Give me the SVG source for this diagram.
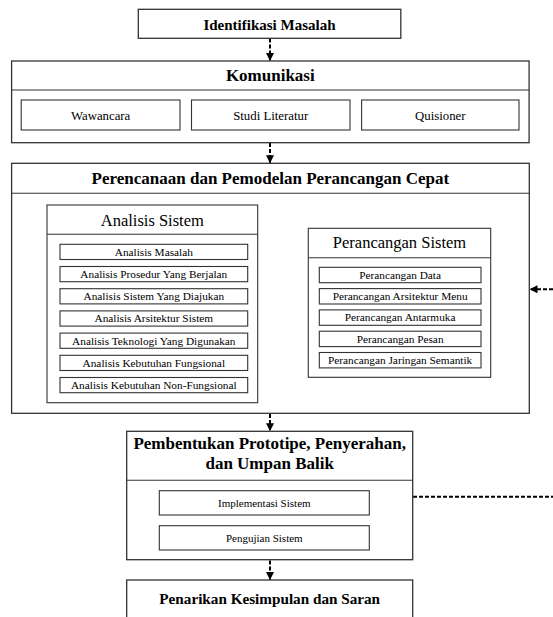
<svg xmlns="http://www.w3.org/2000/svg" width="553" height="617" viewBox="0 0 553 617">
<defs>
<style>
.box{fill:#fff;stroke:#333;stroke-width:1.3}
.sub{fill:#fff;stroke:#333;stroke-width:1.1}
.div{stroke:#333;stroke-width:1.1}
.t{font-family:"Liberation Serif","Times New Roman",serif;fill:#000;text-anchor:middle}
.b{font-weight:bold}
.c{fill:none;stroke:#000;stroke-width:2;stroke-dasharray:4 2}
</style>
<marker id="ah" viewBox="0 0 10 10" refX="10" refY="5" markerWidth="4" markerHeight="4" markerUnits="strokeWidth" orient="auto">
<path d="M0,0 L10,5 L0,10 z" fill="#000"/>
</marker>
</defs>
<rect width="553" height="617" fill="#fff"/>

<g id="connectors">
<line class="c" x1="270" y1="38.5" x2="270" y2="61" marker-end="url(#ah)"/>
<line class="c" x1="270" y1="143" x2="270" y2="163.3" marker-end="url(#ah)"/>
<line class="c" x1="258.5" y1="303.3" x2="308" y2="303.3" marker-end="url(#ah)"/>
<line class="c" x1="553" y1="289.3" x2="529.5" y2="289.3" marker-end="url(#ah)"/>
<line class="c" x1="270" y1="414" x2="270" y2="431.3" marker-end="url(#ah)"/>
<line class="c" x1="413" y1="496.7" x2="553" y2="496.7"/>
<line class="c" x1="270" y1="560.5" x2="270" y2="580" marker-end="url(#ah)"/>
</g>

<g id="identifikasi">
<rect class="box" x="138.3" y="9.3" width="262.5" height="29"/>
<text class="t b" x="269.5" y="29.5" font-size="15">Identifikasi Masalah</text>
</g>

<g id="komunikasi">
<rect class="box" x="11.6" y="61" width="517.5" height="81.7"/>
<line class="div" x1="11.6" y1="90" x2="529.1" y2="90"/>
<text class="t b" x="270.3" y="81.3" font-size="17">Komunikasi</text>
</g>
<g id="wawancara">
<rect class="sub" x="21.2" y="100" width="158.8" height="30"/>
<text class="t" x="100.6" y="119.8" font-size="12.8">Wawancara</text>
</g>
<g id="studi">
<rect class="sub" x="191.5" y="100" width="158.5" height="30"/>
<text class="t" x="270.7" y="119.8" font-size="12.8">Studi Literatur</text>
</g>
<g id="quisioner">
<rect class="sub" x="361.6" y="100" width="157.4" height="30"/>
<text class="t" x="440.3" y="119.8" font-size="12.8">Quisioner</text>
</g>

<g id="perencanaan">
<rect class="box" x="11.6" y="163.3" width="517.7" height="250"/>
<line class="div" x1="11.6" y1="193.3" x2="529.3" y2="193.3"/>
<text class="t b" x="270.4" y="184" font-size="17">Perencanaan dan Pemodelan Perancangan Cepat</text>
</g>

<g id="analisis-sistem">
<rect class="sub" x="47" y="205" width="210.7" height="197.7"/>
<line class="div" x1="47" y1="234.3" x2="257.7" y2="234.3"/>
<text class="t" x="152.3" y="225.5" font-size="16.5">Analisis Sistem</text>
<g id="as-items">
<rect class="sub" x="60" y="244.3" width="187.7" height="15.2"/>
<text class="t" x="153.8" y="255.7" font-size="11.3">Analisis Masalah</text>
<rect class="sub" x="60" y="266.5" width="187.7" height="15.2"/>
<text class="t" x="153.8" y="277.9" font-size="11.3">Analisis Prosedur Yang Berjalan</text>
<rect class="sub" x="60" y="288.7" width="187.7" height="15.2"/>
<text class="t" x="153.8" y="300.1" font-size="11.3">Analisis Sistem Yang Diajukan</text>
<rect class="sub" x="60" y="310.9" width="187.7" height="15.2"/>
<text class="t" x="153.8" y="322.3" font-size="11.3">Analisis Arsitektur Sistem</text>
<rect class="sub" x="60" y="333.1" width="187.7" height="15.2"/>
<text class="t" x="153.8" y="344.5" font-size="11.3">Analisis Teknologi Yang Digunakan</text>
<rect class="sub" x="60" y="355.3" width="187.7" height="15.2"/>
<text class="t" x="153.8" y="366.7" font-size="11.3">Analisis Kebutuhan Fungsional</text>
<rect class="sub" x="60" y="377.5" width="187.7" height="15.2"/>
<text class="t" x="153.8" y="388.9" font-size="11.3">Analisis Kebutuhan Non-Fungsional</text>
</g>
</g>

<g id="perancangan-sistem">
<rect class="sub" x="308.3" y="228.3" width="182.4" height="149"/>
<line class="div" x1="308.3" y1="257.7" x2="490.7" y2="257.7"/>
<text class="t" x="399.5" y="248.3" font-size="16.5">Perancangan Sistem</text>
<g id="ps-items">
<rect class="sub" x="319.3" y="267.3" width="161.7" height="15.4"/>
<text class="t" x="400.1" y="278.8" font-size="11.3">Perancangan Data</text>
<rect class="sub" x="319.3" y="288.6" width="161.7" height="15.4"/>
<text class="t" x="400.1" y="300.1" font-size="11.3">Perancangan Arsitektur Menu</text>
<rect class="sub" x="319.3" y="309.9" width="161.7" height="15.4"/>
<text class="t" x="400.1" y="321.4" font-size="11.3">Perancangan Antarmuka</text>
<rect class="sub" x="319.3" y="331.2" width="161.7" height="15.4"/>
<text class="t" x="400.1" y="342.7" font-size="11.3">Perancangan Pesan</text>
<rect class="sub" x="319.3" y="352.5" width="161.7" height="15.4"/>
<text class="t" x="400.1" y="364" font-size="11.3">Perancangan Jaringan Semantik</text>
</g>
</g>

<g id="pembentukan">
<rect class="box" x="126.7" y="431.3" width="286" height="128.4"/>
<line class="div" x1="126.7" y1="480.3" x2="412.7" y2="480.3"/>
<text class="t b" x="269.7" y="449.3" font-size="17">Pembentukan Prototipe, Penyerahan,</text>
<text class="t b" x="269.7" y="469.3" font-size="17">dan Umpan Balik</text>
</g>
<g id="implementasi">
<rect class="sub" x="159.3" y="490.7" width="210" height="24.3"/>
<text class="t" x="264.3" y="506.6" font-size="11">Implementasi Sistem</text>
</g>
<g id="pengujian">
<rect class="sub" x="159.3" y="525.7" width="210" height="24.3"/>
<text class="t" x="264.3" y="541.6" font-size="11">Pengujian Sistem</text>
</g>

<g id="penarikan">
<rect class="box" x="126.7" y="580" width="286" height="50"/>
<text class="t b" x="269.7" y="604.3" font-size="15.2">Penarikan Kesimpulan dan Saran</text>
</g>
</svg>
